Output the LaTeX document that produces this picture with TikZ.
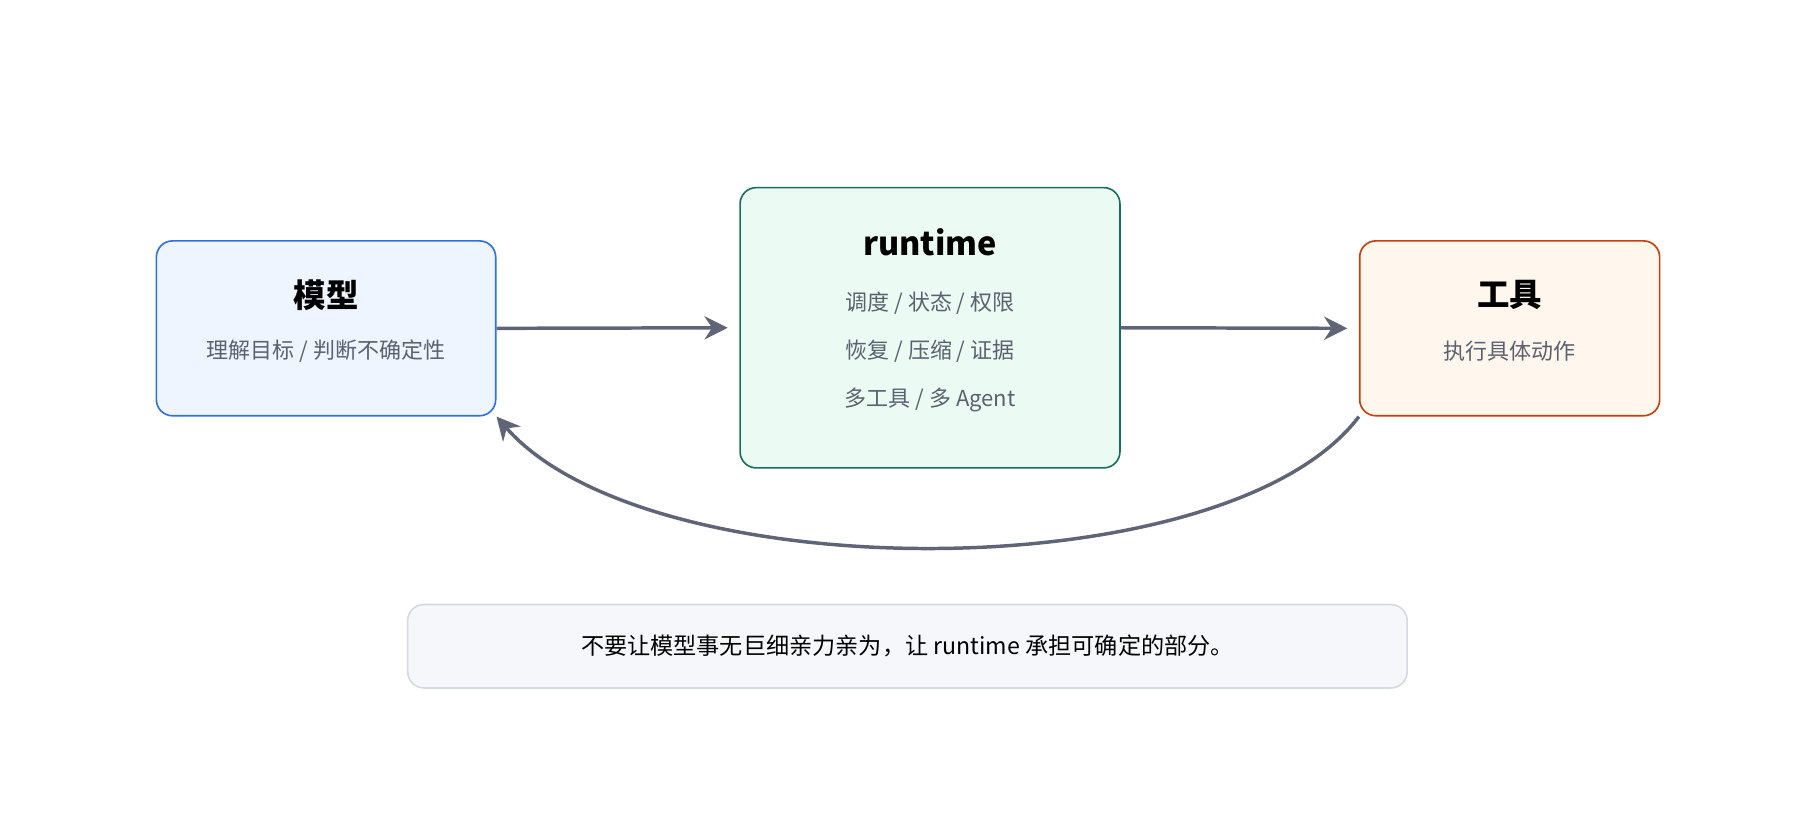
\documentclass[tikz,border=0pt]{standalone}
\usepackage{fontspec}
\setmainfont{Noto Sans CJK SC}
\usetikzlibrary{arrows.meta}
\definecolor{arrowgray}{HTML}{5F6577}
\definecolor{subgray}{HTML}{5B6170}
\definecolor{modelline}{HTML}{2F6FE0}
\definecolor{modelfill}{HTML}{EEF5FE}
\definecolor{rtline}{HTML}{1A6E60}
\definecolor{rtfill}{HTML}{EBFBF3}
\definecolor{toolline}{HTML}{C2410C}
\definecolor{toolfill}{HTML}{FFF6EE}
\definecolor{noteline}{HTML}{D5D9E2}
\definecolor{notefill}{HTML}{F6F7FB}
\begin{document}
\begin{tikzpicture}[x=0.5pt,y=-0.5pt,
  box/.style={draw, line width=0.7pt, rounded corners=7pt, inner sep=0pt},
  title/.style={font=\fontsize{14}{16}\selectfont\bfseries},
  sub/.style={font=\fontsize{9.5}{11}\selectfont, text=subgray},
  flow/.style={draw=arrowgray, line width=1.5pt, -{Stealth[length=10pt,width=10pt]}}]
\useasboundingbox (0,0) rectangle (1568,704.6);
% boxes
\node[box, draw=modelline, fill=modelfill, minimum width=146.5pt, minimum height=75.5pt] (model) at (281.5,283.5) {};
\node[box, draw=rtline, fill=rtfill, minimum width=164pt, minimum height=121pt] (runtime) at (803,283) {};
\node[box, draw=toolline, fill=toolfill, minimum width=129.5pt, minimum height=75.5pt] (tool) at (1303.5,283.5) {};
\node[box, draw=noteline, fill=notefill, minimum width=431.5pt, minimum height=36pt] (note) at (783.5,558) {};
% texts
\node[title] (modeltitle) at (281.5,255) {模型};
\node[sub] (modelsub) at (281.5,303) {理解目标 / 判断不确定性};
\node[title] (rttitle) at (803,209) {runtime};
\node[sub] (rtsuba) at (803,262) {调度 / 状态 / 权限};
\node[sub] (rtsubb) at (803,303) {恢复 / 压缩 / 证据};
\node[sub] (rtsubc) at (803,345) {多工具 / 多 Agent};
\node[title] (tooltitle) at (1303.5,255) {工具};
\node[sub] (toolsub) at (1303.5,303) {执行具体动作};
\node[font=\fontsize{10}{12}\selectfont] (notetext) at (783.5,558) {不要让模型事无巨细亲力亲为，让 runtime 承担可确定的部分。};
% connectors
\draw[flow, shorten >=5pt] (model.east) -- (runtime.west);
\draw[flow, shorten >=5pt] (runtime.east) -- (tool.west);
\draw[flow] (tool.south west) .. controls (1060,510) and (560,510) .. (model.south east);
\end{tikzpicture}
\end{document}
